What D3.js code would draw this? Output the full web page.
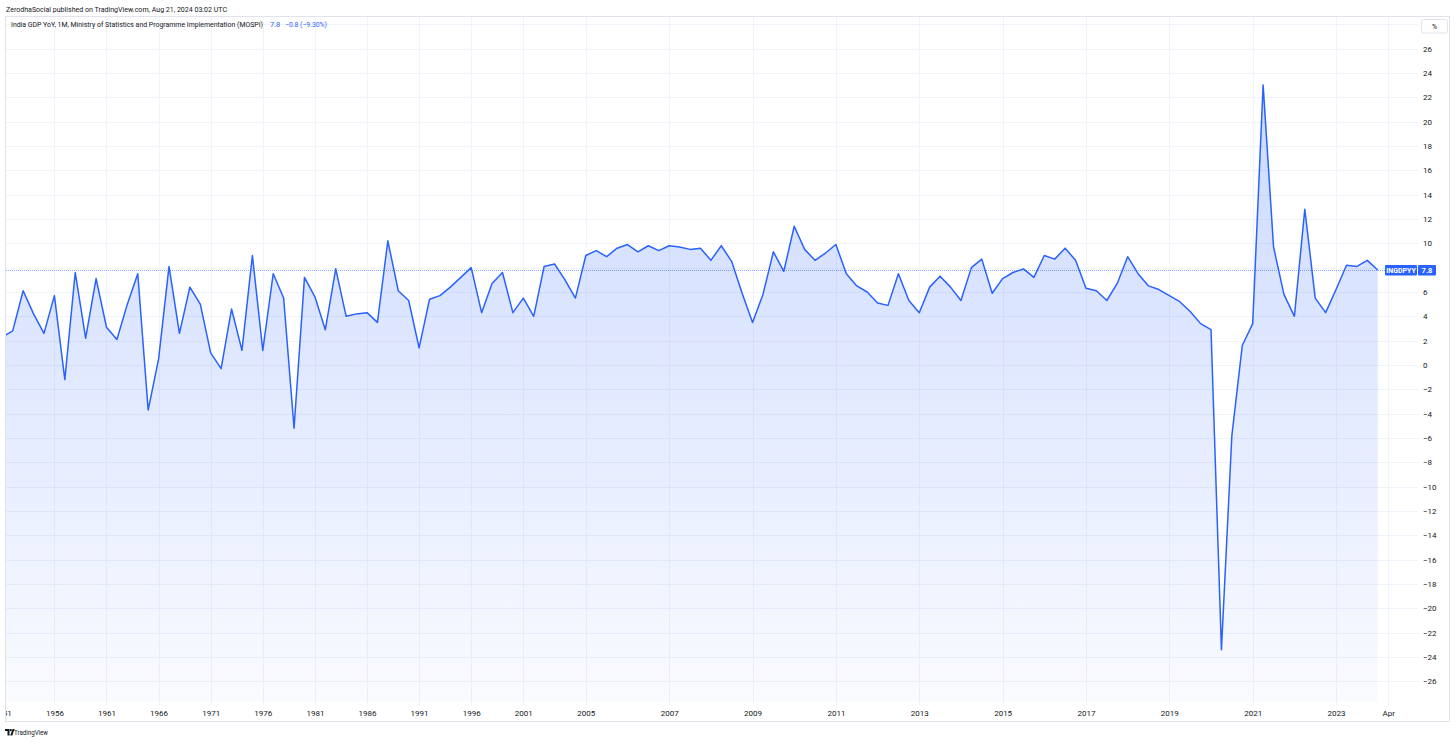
<!DOCTYPE html>
<html><head><meta charset="utf-8">
<script src="https://cdn.jsdelivr.net/npm/d3@7"></script>
<style>
body{margin:0;background:#fff;}
svg{display:block;}
text{font-family:Roboto,"Liberation Sans","DejaVu Sans",sans-serif;}
</style>
</head><body>
<svg id="chart" width="1456" height="744"></svg>
<script>
// India GDP YoY (%), one value per bar (annual 1951-2004, then quarterly)
const gdpYoY = [
  2.3, 2.8, 6.1, 4.2, 2.6, 5.7, -1.2, 7.6, 2.2, 7.1,
  3.1, 2.1, 5.0, 7.5, -3.7, 0.5, 8.1, 2.6, 6.4, 5.0,
  1.0, -0.3, 4.6, 1.2, 9.0, 1.2, 7.5, 5.5, -5.2, 7.2,
  5.6, 2.9, 7.9, 4.0, 4.2, 4.3, 3.5, 10.2, 6.1, 5.3,
  1.4, 5.4, 5.7, 6.4, 7.2, 8.0, 4.3, 6.7, 7.6, 4.3,
  5.5, 4.0, 8.1, 8.3, 7.0, 5.5, 9.0, 9.4, 8.9, 9.6,
  9.9, 9.3, 9.8, 9.4, 9.8, 9.7, 9.5, 9.6, 8.6, 9.8,
  8.5, 5.9, 3.5, 5.8, 9.3, 7.7, 11.4, 9.5, 8.6, 9.2,
  9.9, 7.5, 6.5, 6.0, 5.1, 4.9, 7.5, 5.3, 4.3, 6.4,
  7.3, 6.4, 5.3, 8.0, 8.7, 5.9, 7.1, 7.6, 7.9, 7.2,
  9.0, 8.7, 9.6, 8.6, 6.3, 6.1, 5.3, 6.7, 8.9, 7.5,
  6.5, 6.2, 5.7, 5.2, 4.4, 3.4, 2.9, -23.4, -5.8, 1.6,
  3.4, 23.0, 9.7, 5.8, 4.0, 12.8, 5.5, 4.3, 6.2, 8.2,
  8.1, 8.6, 7.8
];
// time-axis labels and the bar index at which each one sits
const xTickLabels = ["1951","1956","1961","1966","1971","1976","1981","1986","1991","1996","2001",
                     "2005","2007","2009","2011","2013","2015","2017","2019","2021","2023","Apr"];
const xTickIndex  = [0,5,10,15,20,25,30,35,40,45,50,56,64,72,80,88,96,104,112,120,128,133];
// price-scale labels (8 sits under the last-value label)
const yTickValues = [-26,-24,-22,-20,-18,-16,-14,-12,-10,-8,-6,-4,-2,0,2,4,6,8,10,12,14,16,18,20,22,24,26];
const yGridExtra = [28];
const headerText = "ZerodhaSocial published on TradingView.com, Aug 21, 2024 03:02 UTC";
const titleText = "India GDP YoY, 1M, Ministry of Statistics and Programme Implementation (MOSPI)";
const lastText = "7.8";
const changeText = "\u22120.8 (\u22129.30%)";
const symbolText = "INGDPYY";

const svg = d3.select("#chart");
const W = 1456, H = 744;
const plot = {left: 6, top: 17, right: 1418, bottom: 705};
const blue = "#2962FF", grid = "#f0f3fa", txt = "#131722";

svg.append("rect").attr("width", W).attr("height", H).attr("fill", "#fff");

const x = d3.scaleLinear().domain([0, 133]).range([2.3, 2.3 + 133 * 10.42]);
const y = d3.scaleLinear().domain([-26, 26]).range([365 + 26 * 12.17, 365 - 26 * 12.17]);
const lastVal = gdpYoY[gdpYoY.length - 1];

const defs = svg.append("defs");
defs.append("clipPath").attr("id", "plotClip").append("rect")
  .attr("x", plot.left).attr("y", plot.top)
  .attr("width", plot.right - plot.left).attr("height", plot.bottom - plot.top);
defs.append("clipPath").attr("id", "timeClipX").append("rect")
  .attr("x", plot.left).attr("y", -2).attr("width", plot.right - plot.left + 30).attr("height", 16);
const grad = defs.append("linearGradient").attr("id", "areaGrad")
  .attr("gradientUnits", "userSpaceOnUse").attr("x1", 0).attr("x2", 0)
  .attr("y1", y(23)).attr("y2", plot.bottom);
grad.append("stop").attr("offset", 0).attr("stop-color", blue).attr("stop-opacity", 0.24);
grad.append("stop").attr("offset", 1).attr("stop-color", blue).attr("stop-opacity", 0.025);

// outer frame
svg.append("rect").attr("x", 5.5).attr("y", 16.5).attr("width", 1444).attr("height", 705)
  .attr("fill", "none").attr("stroke", "#e0e3eb").attr("stroke-width", 1);

// grid
const gGrid = svg.append("g").attr("clip-path", "url(#plotClip)");
gGrid.selectAll("line.h").data(yTickValues.concat(yGridExtra)).join("line")
  .attr("x1", plot.left).attr("x2", plot.right)
  .attr("y1", d => Math.round(y(d)) + 0.5).attr("y2", d => Math.round(y(d)) + 0.5)
  .attr("stroke", grid).attr("stroke-width", 1);
gGrid.selectAll("line.v").data(xTickIndex).join("line")
  .attr("x1", d => Math.round(x(d)) + 0.5).attr("x2", d => Math.round(x(d)) + 0.5)
  .attr("y1", plot.top).attr("y2", plot.bottom)
  .attr("stroke", grid).attr("stroke-width", 1);

// area + line
const gData = svg.append("g").attr("clip-path", "url(#plotClip)");
const area = d3.area().x((d, i) => x(i)).y0(plot.bottom - 3).y1(d => y(d));
const line = d3.line().x((d, i) => x(i)).y(d => y(d));
gData.append("path").datum(gdpYoY).attr("d", area).attr("fill", "url(#areaGrad)");
gData.append("path").datum(gdpYoY).attr("d", line)
  .attr("fill", "none").attr("stroke", blue).attr("stroke-width", 1.5).attr("stroke-linejoin", "round");

// last value dotted line
const lastY = Math.round(y(lastVal)) + 0.5;
gData.append("line").attr("x1", plot.left).attr("x2", 1385).attr("y1", lastY).attr("y2", lastY)
  .attr("stroke", blue).attr("stroke-width", 1).attr("stroke-dasharray", "1,1").attr("opacity", 0.55);

// price scale (labels hidden by the last-value label are not drawn)
const yAxis = d3.axisRight(y).tickValues(yTickValues.filter(v => Math.abs(y(v) - y(lastVal)) > 9))
  .tickSize(0).tickPadding(0)
  .tickFormat(d => d < 0 ? "\u2212" + Math.abs(d) : String(d));
const gy = svg.append("g").attr("transform", `translate(${1423},0)`).call(yAxis);
gy.select(".domain").remove();
gy.selectAll("text").attr("fill", txt).attr("font-size", 8).attr("text-anchor", "start");

// time scale
const xAxis = d3.axisBottom(x).tickValues(xTickIndex).tickSize(0).tickPadding(0)
  .tickFormat((d, i) => xTickLabels[i]);
const gx = svg.append("g").attr("transform", `translate(0,${plot.bottom + 5})`)
  .attr("clip-path", "url(#timeClipX)").call(xAxis);
gx.select(".domain").remove();
gx.selectAll("text").attr("fill", txt).attr("font-size", 8).attr("dy", "0.71em");

// price label
const lblG = svg.append("g");
lblG.append("rect").attr("x", 1385).attr("y", lastY - 5.5).attr("width", 32).attr("height", 10.5)
  .attr("fill", blue).attr("rx", 1);
lblG.append("rect").attr("x", 1418).attr("y", lastY - 5.5).attr("width", 18).attr("height", 10.5)
  .attr("fill", blue).attr("rx", 1);
lblG.append("text").attr("x", 1401).attr("y", lastY).attr("dy", "0.35em").attr("text-anchor", "middle")
  .attr("fill", "#fff").attr("font-size", 7).attr("font-weight", "bold").text(symbolText);
lblG.append("text").attr("x", 1427).attr("y", lastY).attr("dy", "0.35em").attr("text-anchor", "middle")
  .attr("fill", "#fff").attr("font-size", 7.5).attr("font-weight", "bold").text(lastText);

// % button
svg.append("rect").attr("x", 1421.5).attr("y", 19.5).attr("width", 26).attr("height", 13.5).attr("rx", 2)
  .attr("fill", "#fff").attr("stroke", "#e0e3eb");
svg.append("text").attr("x", 1434.5).attr("y", 26.5).attr("dy", "0.35em").attr("text-anchor", "middle")
  .attr("fill", txt).attr("font-size", 7).text("%");

// header texts
svg.append("text").attr("x", 6).attr("y", 9).attr("dy", "0.35em").attr("fill", txt)
  .attr("font-size", 7.4).attr("textLength", 221).attr("lengthAdjust", "spacingAndGlyphs").text(headerText);
const legend = svg.append("text").attr("y", 24.5).attr("dy", "0.35em").attr("font-size", 6.6);
legend.append("tspan").attr("x", 11).attr("fill", txt)
  .attr("textLength", 252).attr("lengthAdjust", "spacingAndGlyphs").text(titleText);
legend.append("tspan").attr("x", 270).attr("fill", blue).attr("font-size", 7.4).text(lastText);
legend.append("tspan").attr("x", 285).attr("fill", blue).attr("font-size", 7)
  .attr("textLength", 42).attr("lengthAdjust", "spacingAndGlyphs").text(changeText);

// TradingView footer logo
const logo = svg.append("g").attr("transform", "translate(5,729)").attr("fill", txt);
logo.append("path").attr("d", "M0,0 H4.5 V6.5 H2.5 V2 H0 Z");
logo.append("circle").attr("cx", 5.8).attr("cy", 1.2).attr("r", 1.1);
logo.append("path").attr("d", "M5.2,6.5 L7.6,0 H9.6 L7.3,6.5 Z");
svg.append("text").attr("x", 14).attr("y", 732.5).attr("dy", "0.35em").attr("fill", txt)
  .attr("font-size", 7.5).attr("textLength", 34).attr("lengthAdjust", "spacingAndGlyphs").text("TradingView");
</script>
</body></html>
